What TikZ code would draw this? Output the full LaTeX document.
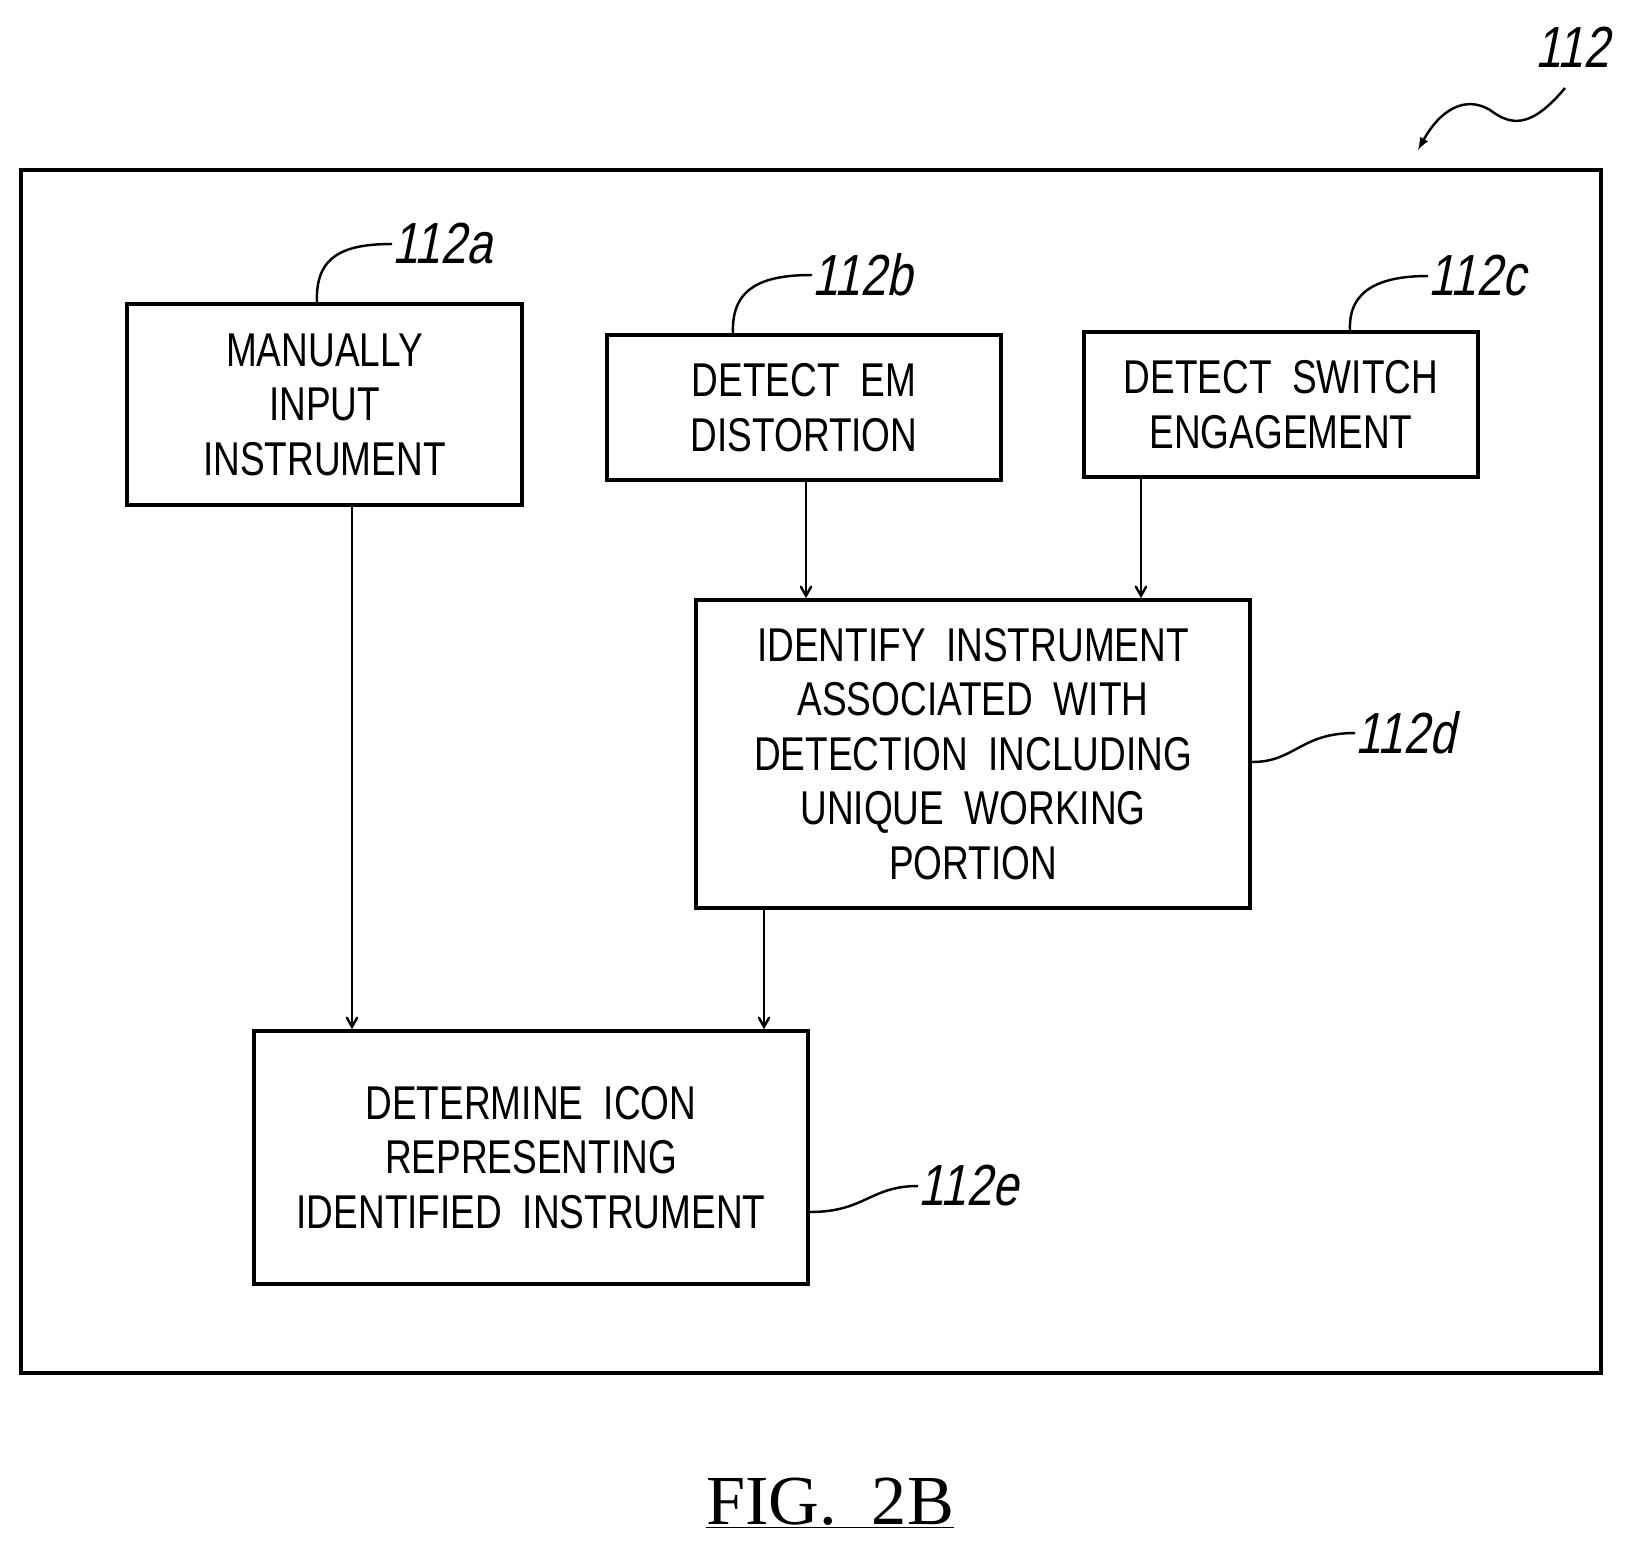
\documentclass[tikz,border=0pt]{standalone}
\usepackage{fontspec}
\setmainfont{Liberation Serif}
\newfontfamily\boxfont[FakeStretch=0.78]{Liberation Sans}
\newfontfamily\reffont[FakeStretch=0.8,FakeSlant=0.2]{Liberation Sans}
\usetikzlibrary{arrows,positioning}
\tikzstyle{stepbox}=[draw,line width=2.2pt,inner sep=0pt,
                  font=\boxfont\fontsize{27}{31}\selectfont,align=center]
\tikzstyle{line}=[draw,line width=1.4pt,-angle 60]
\tikzstyle{lead}=[draw,line width=1.4pt]
\tikzstyle{lbl}=[font=\reffont\fontsize{33}{33}\selectfont,inner sep=0pt]
\begin{document}
\begin{tikzpicture}[x=0.02cm,y=-0.02cm]
\useasboundingbox (0,0) rectangle (1626,1559);
\draw[line width=2.2pt] (21,170) rectangle (1601,1373);
% boxes
\node[stepbox,minimum width=7.9cm,minimum height=4.02cm] (a) at (324.5,404.5)
  {MANUALLY\\INPUT\\INSTRUMENT};
\node[stepbox,minimum width=7.88cm,minimum height=2.9cm] (b) at (804,407.5)
  {DETECT\ \ EM\\DISTORTION};
\node[stepbox,minimum width=7.88cm,minimum height=2.9cm] (c) at (1281,404.5)
  {DETECT\ \ SWITCH\\ENGAGEMENT};
\node[stepbox,minimum width=11.08cm,minimum height=6.16cm] (d) at (973,754)
  {IDENTIFY\ \ INSTRUMENT\\ASSOCIATED\ \ WITH\\DETECTION\ \ INCLUDING\\UNIQUE\ \ WORKING\\PORTION};
\node[stepbox,minimum width=11.08cm,minimum height=5.06cm] (e) at (531,1157.5)
  {DETERMINE\ \ ICON\\REPRESENTING\\IDENTIFIED\ \ INSTRUMENT};
% arrows
\draw[line] (a.south -| 352,0) -- (e.north -| 352,0);
\draw[line] (b.south -| 806,0) -- (d.north -| 806,0);
\draw[line] (c.south -| 1141,0) -- (d.north -| 1141,0);
\draw[line] (d.south -| 764,0) -- (e.north -| 764,0);
% reference labels
\node[lbl,anchor=west] (la) at (392,244) {112a};
\node[lbl,anchor=west] (lb) at (812,275) {112b};
\node[lbl,anchor=west] (lc) at (1428,276) {112c};
\node[lbl,anchor=west] (ld) at (1355,733) {112d};
\node[lbl,anchor=west] (le) at (918,1186) {112e};
\node[lbl,anchor=west] (lt) at (1535,47) {112};
\draw[lead] (a.north -| 317,0) .. controls (315,255) and (345,244) .. (la.west);
\draw[lead] (b.north -| 733,0) .. controls (731,286) and (765,275) .. (lb.west);
\draw[lead] (c.north -| 1350,0) .. controls (1348,287) and (1385,276) .. (lc.west);
\draw[lead] (d.east |- 0,762) .. controls (1295,762) and (1300,733) .. (ld.west);
\draw[lead] (e.east |- 0,1212) .. controls (865,1212) and (870,1186) .. (le.west);
\coordinate (tip) at (1418,150);
\draw[lead,-latex] (1565,88) .. controls (1530,130) and (1510,125) .. (1490,110)
  .. controls (1465,95) and (1440,110) .. (tip);
% caption
\node[font=\fontsize{40}{40}\selectfont] (fig) at (830,1503) {\underline{FIG.\ \ 2B}};
\end{tikzpicture}
\end{document}
